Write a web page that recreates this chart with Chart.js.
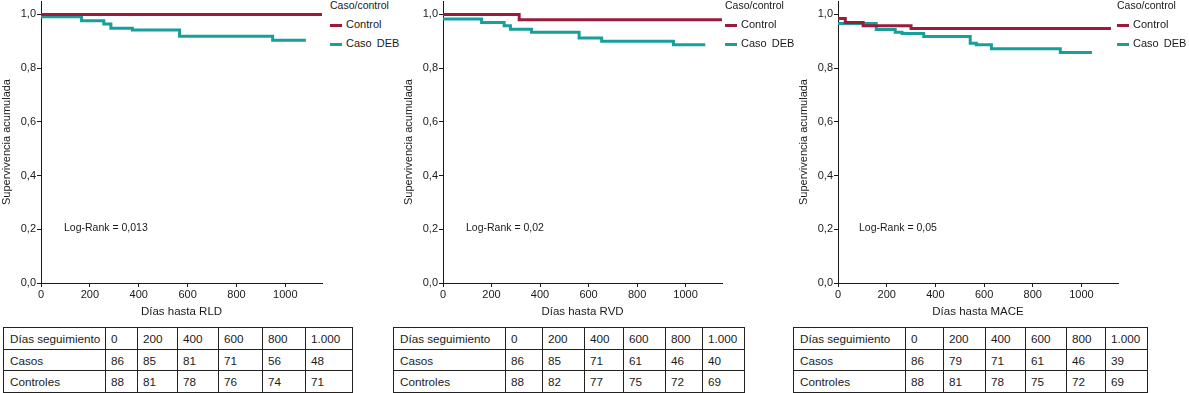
<!DOCTYPE html>
<html>
<head>
<meta charset="utf-8">
<script src="https://cdn.jsdelivr.net/npm/chart.js@4.4.1/dist/chart.umd.min.js"></script>
<style>
  html, body { margin: 0; padding: 0; background: #fff; }
  body { width: 1189px; height: 393px; position: relative; overflow: hidden;
         font-family: 'Liberation Sans', Arial, Helvetica, sans-serif; color: #1a1a1a; }
  canvas { position: absolute; top: 0; }
  .legend { position: absolute; top: 0; font-size: 11px; line-height: 12px; }
  .legend .ttl { position: absolute; left: 0; top: -1px; white-space: nowrap; font-size: 10.5px; }
  .legend .item { position: absolute; left: 0; white-space: nowrap; }
  .legend .sw { position: absolute; left: 0; width: 12px; height: 3px; }
  .legend .lbl { position: absolute; left: 16px; top: 0; word-spacing: 2px; }
  .logrank { position: absolute; font-size: 10.5px; white-space: nowrap; }
  table { position: absolute; top: 327px; border-collapse: collapse; table-layout: fixed;
          font-size: 11.7px; }
  td { border: 1px solid #222; height: 20.7px; padding: 0 0 0 5px; vertical-align: middle;
       white-space: nowrap; overflow: hidden; }
  td:first-child { padding-left: 6px; }
</style>
</head>
<body>

<canvas id="chartRLD" width="330" height="322" style="left:0px"></canvas>
<canvas id="chartRVD" width="330" height="322" style="left:402px"></canvas>
<canvas id="chartMACE" width="330" height="322" style="left:797px"></canvas>

<div class="logrank" id="lrRLD" style="left:64px; top:221px"></div>
<div class="logrank" id="lrRVD" style="left:466px; top:221px"></div>
<div class="logrank" id="lrMACE" style="left:859px; top:221px"></div>

<div class="legend" id="legRLD" style="left:330px"></div>
<div class="legend" id="legRVD" style="left:725px"></div>
<div class="legend" id="legMACE" style="left:1117px"></div>

<table id="tabRLD" style="left:3px; width:349px"></table>
<table id="tabRVD" style="left:393px; width:351px"></table>
<table id="tabMACE" style="left:793px; width:354px"></table>

<script>
// ── Data ────────────────────────────────────────────

const seguimientoDias = ['0', '200', '400', '600', '800', '1.000'];
const serieNombres = ['Control', 'Caso DEB'];
const leyendaTitulo = 'Caso/control';

// RLD
const rldControlDias = [0, 1150];
const rldControlSurv = [1.0, 1.0];
const rldCasoDias = [0, 166, 257, 286, 374, 567, 948, 1084];
const rldCasoSurv = [0.991, 0.976, 0.964, 0.949, 0.942, 0.919, 0.904, 0.904];
const rldCasos = [86, 85, 81, 71, 56, 48];
const rldControles = [88, 81, 78, 76, 74, 71];
const rldLogRank = 'Log-Rank = 0,013';

// RVD
const rvdControlDias = [0, 314, 1150];
const rvdControlSurv = [1.0, 0.98, 0.98];
const rvdCasoDias = [0, 159, 252, 278, 365, 561, 654, 950, 1081];
const rvdCasoSurv = [0.983, 0.97, 0.958, 0.945, 0.934, 0.912, 0.9, 0.887, 0.887];
const rvdCasos = [86, 85, 71, 61, 46, 40];
const rvdControles = [88, 82, 77, 75, 72, 69];
const rvdLogRank = 'Log-Rank = 0,02';

// MACE
const maceControlDias = [0, 30, 103, 300, 1121];
const maceControlSurv = [0.985, 0.97, 0.958, 0.948, 0.948];
const maceCasoDias = [0, 157, 235, 263, 352, 543, 568, 630, 913, 1043];
const maceCasoSurv = [0.966, 0.944, 0.934, 0.929, 0.918, 0.893, 0.887, 0.872, 0.858, 0.858];
const maceCasos = [86, 79, 71, 61, 46, 39];
const maceControles = [88, 81, 78, 75, 72, 69];
const maceLogRank = 'Log-Rank = 0,05';

// ── Style ───────────────────────────────────────────

const RED = '#9c1b3b';
const TEAL = '#17a09b';
const INK = '#1a1a1a';
const FONT = "'Liberation Sans', Arial, Helvetica, sans-serif";

// ── Charts ──────────────────────────────────────────

function toPoints(dias, surv) {
  return dias.map((x, i) => ({ x, y: surv[i] }));
}

function kmChart(id, ctrlDias, ctrlSurv, casoDias, casoSurv, xTitle, padRight) {
  return new Chart(document.getElementById(id), {
    type: 'line',
    data: {
      datasets: [
        {
          label: serieNombres[0],
          data: toPoints(ctrlDias, ctrlSurv),
          borderColor: RED,
          borderWidth: 3,
          borderCapStyle: 'butt',
          stepped: 'before',
          pointRadius: 0,
          fill: false,
        },
        {
          label: serieNombres[1],
          data: toPoints(casoDias, casoSurv),
          borderColor: TEAL,
          borderWidth: 3,
          borderCapStyle: 'butt',
          stepped: 'before',
          pointRadius: 0,
          fill: false,
        },
      ],
    },
    options: {
      responsive: false,
      animation: false,
      events: [],
      layout: { padding: { top: 1, right: padRight, bottom: 3, left: 0 } },
      plugins: { legend: { display: false }, tooltip: { enabled: false } },
      scales: {
        x: {
          type: 'linear',
          min: 0,
          max: 1150,
          border: { color: INK, width: 1 },
          grid: { drawOnChartArea: false, tickLength: 4, color: INK },
          ticks: {
            stepSize: 200, includeBounds: false, maxRotation: 0, padding: 1,
            color: INK, font: { family: FONT, size: 11 },
            callback: v => String(v),
          },
          title: {
            display: true, text: xTitle, color: INK, padding: 0,
            font: { family: FONT, size: 11.5 },
          },
          afterFit: s => { s.height = 36; s.paddingLeft = 0; s.paddingRight = 0; },
        },
        y: {
          type: 'linear',
          min: 0,
          max: 1.05,
          border: { color: INK, width: 1 },
          grid: { drawOnChartArea: false, tickLength: 4, color: INK },
          ticks: {
            stepSize: 0.2, includeBounds: false, padding: 1,
            color: INK, font: { family: FONT, size: 11 },
            callback: v => v.toFixed(1).replace('.', ','),
          },
          title: {
            display: true, text: 'Supervivencia acumulada', color: INK, padding: 0,
            font: { family: FONT, size: 11 },
          },
          afterFit: s => { s.width = 41; s.paddingTop = 0; s.paddingBottom = 0; },
        },
      },
    },
  });
}

kmChart('chartRLD', rldControlDias, rldControlSurv, rldCasoDias, rldCasoSurv, 'Días hasta RLD', 8);
kmChart('chartRVD', rvdControlDias, rvdControlSurv, rvdCasoDias, rvdCasoSurv, 'Días hasta RVD', 10);
kmChart('chartMACE', maceControlDias, maceControlSurv, maceCasoDias, maceCasoSurv, 'Días hasta MACE', 9);

// ── Legends & notes ─────────────────────────────────

function renderLegend(id) {
  const el = document.getElementById(id);
  const colors = [RED, TEAL];
  el.innerHTML = `<div class="ttl">${leyendaTitulo}</div>` +
    serieNombres.map((n, i) => `<div class="item" style="top:${18 + i * 19}px">
      <div class="sw" style="top:${6}px; background:${colors[i]}"></div>
      <div class="lbl">${n}</div></div>`).join('');
}
['legRLD', 'legRVD', 'legMACE'].forEach(renderLegend);

document.getElementById('lrRLD').textContent = rldLogRank;
document.getElementById('lrRVD').textContent = rvdLogRank;
document.getElementById('lrMACE').textContent = maceLogRank;

// ── Tables ──────────────────────────────────────────

function renderTable(id, widths, casos, controles) {
  const tbl = document.getElementById(id);
  const cols = '<colgroup>' + widths.map(w => `<col style="width:${w}px">`).join('') + '</colgroup>';
  const row = (label, vals) => `<tr><td>${label}</td>${vals.map(v => `<td>${v}</td>`).join('')}</tr>`;
  tbl.innerHTML = cols +
    row('Días seguimiento', seguimientoDias) +
    row('Casos', casos) +
    row('Controles', controles);
}

renderTable('tabRLD', [102, 32, 40, 41, 44, 43, 47], rldCasos, rldControles);
renderTable('tabRVD', [112, 37, 42, 39, 42, 37, 42], rvdCasos, rvdControles);
renderTable('tabMACE', [112, 38, 42, 40, 41, 39, 42], maceCasos, maceControles);
</script>
</body>
</html>
